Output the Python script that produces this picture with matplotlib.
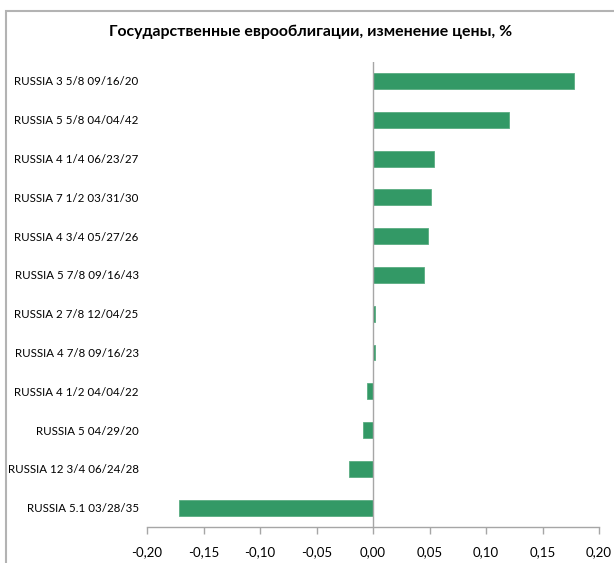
import numpy as np
import matplotlib.pyplot as plt
from matplotlib.patches import Rectangle
from matplotlib.ticker import FuncFormatter

plt.rcParams['font.family'] = ['Lato', 'DejaVu Sans']

# Data
bonds = [
    'RUSSIA 3 5/8 09/16/20',
    'RUSSIA 5 5/8 04/04/42',
    'RUSSIA 4 1/4 06/23/27',
    'RUSSIA 7 1/2 03/31/30',
    'RUSSIA 4 3/4 05/27/26',
    'RUSSIA 5 7/8 09/16/43',
    'RUSSIA 2 7/8 12/04/25',
    'RUSSIA 4 7/8 09/16/23',
    'RUSSIA 4 1/2 04/04/22',
    'RUSSIA 5 04/29/20',
    'RUSSIA 12 3/4 06/24/28',
    'RUSSIA 5.1 03/28/35',
]
price_change = [0.178, 0.120, 0.054, 0.051, 0.049, 0.045,
                0.0015, 0.0015, -0.005, -0.009, -0.021, -0.172]
x_ticks = [-0.20, -0.15, -0.10, -0.05, 0.0, 0.05, 0.10, 0.15, 0.20]

title = 'Государственные еврооблигации, изменение цены, %'

fig = plt.figure(figsize=(6.14, 5.63), dpi=100)
ax = fig.add_axes([147/614, 1 - 527/563, (599 - 147)/614, (527 - 61.6)/563])

y = np.arange(len(bonds))
ax.barh(y, price_change, height=0.41, color='#339966', edgecolor='#5aad82', linewidth=0.6)

ax.set_ylim(len(bonds) - 0.5, -0.5)
ax.set_xlim(-0.2, 0.2)
ax.axvline(0, color='#a6a6a6', linewidth=1.0)

ax.set_yticks(y)
ax.set_yticklabels(bonds, fontsize=8.3)
ax.tick_params(axis='y', length=0, pad=6)

ax.set_xticks(x_ticks)
ax.xaxis.set_major_formatter(FuncFormatter(lambda v, p: f'{v:.2f}'.replace('.', ',').replace('-0,00', '0,00')))
ax.tick_params(axis='x', length=5, width=1, color='#a6a6a6', labelsize=9.5, pad=9)

for side in ['top', 'right', 'left']:
    ax.spines[side].set_visible(False)
ax.spines['bottom'].set_color('#a6a6a6')
ax.spines['bottom'].set_linewidth(1.0)

fig.text(311/614, 1 - 32/563, title, ha='center', va='center', fontsize=11.4, fontweight='bold')

# Chart border
border = Rectangle((6/614, -0.05), 1.0, 1 - 10.5/563 + 0.05, transform=fig.transFigure,
                   fill=False, edgecolor='#b3b3b3', linewidth=1.5)
fig.patches.append(border)

plt.savefig('out.png', dpi=100)
